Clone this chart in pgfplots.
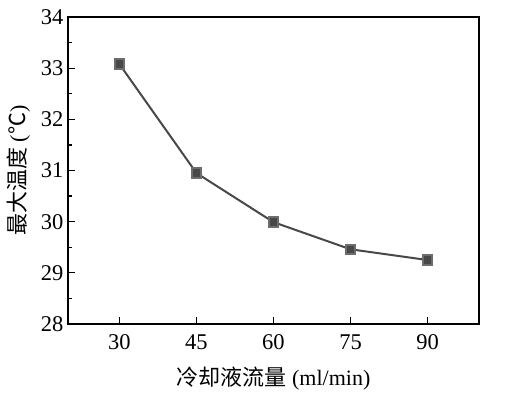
\documentclass[border=0pt]{standalone}
\usepackage{pgfplots}
\pgfplotsset{compat=1.18}
\usepackage{fontspec}
\setmainfont{Liberation Serif}
\newfontfamily\cjk{Noto Sans CJK SC}
\definecolor{linegray}{HTML}{484848}
\begin{document}
\begin{tikzpicture}
\path[use as bounding box] (-68bp,-69bp) rectangle (445bp,324bp);
\begin{axis}[
  at={(0,0)}, anchor=south west,
  scale only axis,
  width=411bp, height=307bp,
  xmin=20, xmax=100, ymin=28, ymax=34,
  xtick={30,45,60,75,90},
  ytick={28,29,30,31,32,33,34},
  minor y tick num=1,
  tick align=inside,
  xtick pos=left, ytick pos=left,
  major tick length=7bp, minor tick length=4bp,
  axis line style={line width=1.3pt},
  every tick/.style={line width=1.2pt, black},
  tick label style={font=\fontsize{22.5bp}{25bp}\selectfont},
  xticklabel style={yshift=-7bp},
  yticklabel style={xshift=-1bp},
  /pgf/number format/assume math mode=true,
  xlabel={{\cjk 冷却液流量} (ml/min)},
  ylabel={{\cjk 最大温度} ({\cjk ℃})},
  label style={font=\fontsize{22bp}{25bp}\selectfont},
  xlabel style={yshift=-10bp},
  ylabel style={yshift=4bp},
]
\addplot[color=linegray, line width=2bp, mark=square*, mark size=4.7bp, mark options={fill=linegray, draw=linegray!80}]
coordinates {(30,33.08) (45,30.95) (60,29.99) (75,29.46) (90,29.25)};
\end{axis}
\end{tikzpicture}
\end{document}
